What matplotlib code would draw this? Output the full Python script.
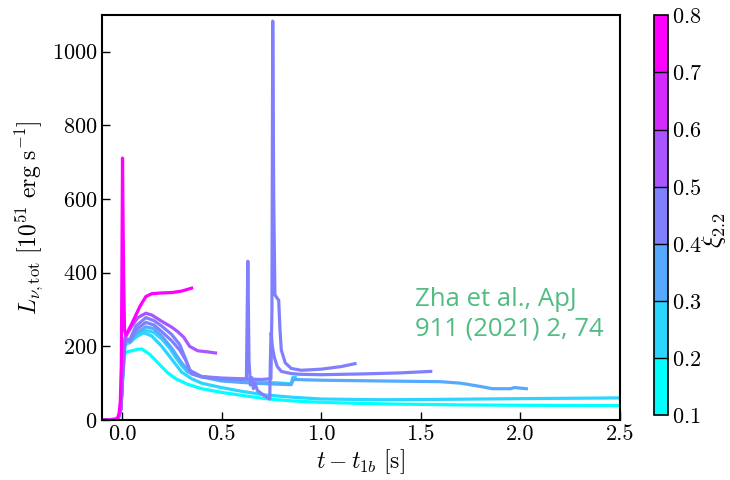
import numpy as np
import matplotlib
matplotlib.use('Agg')
import matplotlib.pyplot as plt
from matplotlib.colors import Normalize

plt.rcParams['font.family'] = 'serif'
plt.rcParams['font.serif'] = ['cmr10', 'DejaVu Serif']
plt.rcParams['mathtext.fontset'] = 'cm'
plt.rcParams['axes.formatter.use_mathtext'] = True

# compactness of each model and its luminosity curve
xi_vals = [0.13, 0.22, 0.28, 0.35, 0.42, 0.45, 0.55, 0.77]

t_h = [-0.1, -0.02, -0.005, 0.005, 0.015, 0.025, 0.05, 0.08, 0.1, 0.14, 0.19, 0.23, 0.27,
       0.33, 0.4, 0.5, 0.6, 0.72, 0.85, 1.0, 1.2, 1.4, 1.7, 2.0, 2.5]
L_h = [0, 2, 30, 120, 180, 185, 188, 192, 193, 178, 150, 128, 112,
       97, 85, 75, 67, 58, 52, 48, 45, 43, 41, 40, 39]

t_g = [-0.1, -0.02, -0.005, 0.005, 0.015, 0.025, 0.04, 0.07, 0.11, 0.15, 0.2, 0.25, 0.3,
       0.35, 0.4, 0.5, 0.6, 0.72, 0.85, 1.0, 1.3, 1.6, 2.0, 2.5]
L_g = [0, 2, 30, 130, 200, 208, 210, 225, 237, 228, 200, 165, 130,
       112, 100, 88, 78, 68, 62, 57, 55, 56, 58, 60]

t_f = [-0.1, -0.02, -0.005, 0.005, 0.015, 0.025, 0.04, 0.07, 0.12, 0.16, 0.2, 0.24, 0.27,
       0.3, 0.33, 0.4, 0.5, 0.6, 0.7, 0.8, 0.85, 0.857, 0.87]
L_f = [0, 2, 30, 140, 210, 212, 210, 228, 243, 238, 220, 195, 170,
       148, 130, 118, 110, 106, 103, 100, 98, 115, 116]

t_e = [-0.1, -0.02, -0.005, 0.005, 0.015, 0.025, 0.04, 0.07, 0.12, 0.16, 0.2, 0.25, 0.3,
       0.34, 0.4, 0.5, 0.6, 0.7, 0.85, 0.86, 1.0, 1.3, 1.6, 1.7, 1.8, 1.86, 1.95, 1.97, 2.03]
L_e = [0, 2, 30, 140, 212, 215, 212, 235, 253, 248, 228, 195, 155,
       130, 117, 106, 102, 99, 96, 110, 108, 106, 104, 100, 91, 85, 85, 88, 85]

t_d = [-0.1, -0.02, -0.005, 0.005, 0.015, 0.025, 0.04, 0.07, 0.12, 0.16, 0.2, 0.25, 0.29,
       0.32, 0.35, 0.4, 0.5, 0.6, 0.625, 0.632, 0.638, 0.645, 0.652, 0.66, 0.668, 0.68,
       0.71, 0.742, 0.745, 0.749, 0.755, 0.765, 0.78, 0.8, 0.85, 0.9, 1.0, 1.2, 1.4, 1.55]
L_d = [0, 2, 30, 140, 215, 218, 215, 245, 265, 258, 240, 215, 190,
       163, 125, 117, 112, 110, 112, 431, 160, 95, 115, 85, 100, 80,
       68, 57, 160, 237, 200, 170, 145, 132, 126, 124, 123, 125, 128, 132]

t_c = [-0.1, -0.02, -0.005, 0.005, 0.015, 0.025, 0.04, 0.07, 0.12, 0.16, 0.2, 0.25, 0.29,
       0.32, 0.34, 0.4, 0.5, 0.6, 0.7, 0.748, 0.753, 0.757, 0.762, 0.768, 0.78, 0.787,
       0.793, 0.8, 0.82, 0.85, 0.9, 1.0, 1.1, 1.17]
L_c = [0, 2, 30, 140, 215, 220, 218, 255, 278, 270, 255, 232, 205,
       165, 135, 118, 114, 112, 110, 112, 300, 1083, 600, 340, 330, 325,
       250, 190, 155, 140, 135, 138, 145, 153]

t_b = [-0.1, -0.02, -0.005, 0.005, 0.015, 0.025, 0.05, 0.08, 0.12, 0.15, 0.2, 0.25, 0.28,
       0.31, 0.34, 0.38, 0.43, 0.47]
L_b = [0, 2, 30, 140, 222, 232, 255, 278, 290, 285, 268, 252, 240,
       225, 200, 188, 185, 182]

t_a = [-0.1, -0.04, -0.025, -0.015, -0.008, -0.003, 0.0, 0.003, 0.008, 0.013, 0.02, 0.05,
       0.09, 0.12, 0.15, 0.2, 0.25, 0.3, 0.35]
L_a = [0, 0, 3, 15, 50, 150, 400, 711, 420, 245, 230, 262,
       308, 335, 343, 345, 346, 350, 358]

curves = [(t_h, L_h), (t_g, L_g), (t_f, L_f), (t_e, L_e),
          (t_d, L_d), (t_c, L_c), (t_b, L_b), (t_a, L_a)]

cmap = plt.get_cmap('cool', 7)
norm = Normalize(vmin=0.1, vmax=0.8)

fig = plt.figure(figsize=(7.3, 4.8), dpi=100)
ax = fig.add_axes([0.1397, 0.125, 0.7096, 0.844])

for xi, (t, L) in zip(xi_vals, curves):
    ax.plot(t, L, color=cmap(norm(xi)), lw=2.3, solid_joinstyle='round')

ax.set_xlim(-0.1, 2.5)
ax.set_ylim(0, 1100)
ax.set_xticks([0.0, 0.5, 1.0, 1.5, 2.0, 2.5])
ax.set_xticklabels(['0.0', '0.5', '1.0', '1.5', '2.0', '2.5'])
ax.set_yticks([0, 200, 400, 600, 800, 1000])
ax.tick_params(direction='in', length=6, width=1, labelsize=16)
for sp in ax.spines.values():
    sp.set_linewidth(1.5)
ax.set_xlabel(r'$t-t_{1b}\ [\mathrm{s}]$', fontsize=17, labelpad=2)
ax.set_ylabel(r'$L_{\nu,\mathrm{tot}}\ [10^{51}\ \mathrm{erg\ s^{-1}}]$', fontsize=17, labelpad=4)

cax = fig.add_axes([0.896, 0.135, 0.019, 0.833])
sm = plt.cm.ScalarMappable(cmap=cmap, norm=norm)
cb = fig.colorbar(sm, cax=cax, drawedges=True)
cb.set_ticks([0.1, 0.2, 0.3, 0.4, 0.5, 0.6, 0.7, 0.8])
cb.ax.tick_params(length=0, labelsize=16, pad=3)
cb.outline.set_linewidth(1.2)
cb.dividers.set_linewidth(1.0)
fig.text(0.978, 0.52, r'$\xi_{2.2}$', fontsize=19, rotation=90, ha='center', va='center')

fig.text(0.568, 0.346, 'Zha et al., ApJ\n911 (2021) 2, 74', color='#52bc82',
         fontsize=18.5, family='Open Sans', va='center', ha='left', linespacing=1.25)

fig.savefig('out.png', dpi=100)
